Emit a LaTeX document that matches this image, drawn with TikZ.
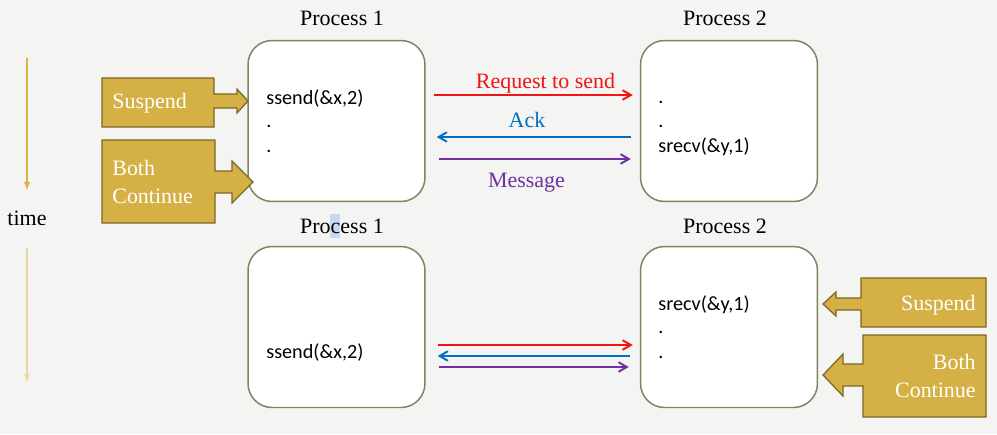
\documentclass[tikz,border=0pt]{standalone}
\usepackage{fontspec}
\setmainfont{Liberation Serif}
\newfontfamily\codefont{Carlito}
\usetikzlibrary{arrows}
\definecolor{bgpaper}{RGB}{244,244,242}
\definecolor{boxline}{RGB}{128,132,96}
\definecolor{gold}{RGB}{213,176,69}
\definecolor{goldline}{RGB}{125,103,38}
\definecolor{timegold}{RGB}{217,178,70}
\definecolor{timepale}{RGB}{238,214,160}
\definecolor{reqred}{RGB}{240,20,20}
\definecolor{ackblue}{RGB}{0,112,192}
\definecolor{msgpurple}{RGB}{112,48,160}
\definecolor{selblue}{RGB}{197,217,241}
\newcommand{\lb}{\fontsize{12.5}{15}\selectfont}
\newcommand{\cd}{\codefont\fontsize{11.5}{14}\selectfont}
\tikzset{
  procbox/.style={draw=boxline, line width=0.85pt, fill=white, rounded corners=0.48cm,
    minimum width=3.54cm, minimum height=3.22cm},
  callout/.style={draw=goldline, line width=0.7pt, fill=gold},
  calltxt/.style={inner sep=0pt, font=\lb, text=white},
  code/.style={anchor=base west, inner sep=0pt, font=\cd},
  lbl/.style={anchor=base, inner sep=0pt, font=\lb},
  msg/.style={line width=1.1pt, ->, >=angle 60},
}

\begin{document}
\begin{tikzpicture}[x=0.02cm,y=-0.02cm]
  \fill[bgpaper] (0,0) rectangle (997,434);
  \path[use as bounding box] (0,0) rectangle (997,434);
%  time axis
  \coordinate (tup) at (27,58);
  \coordinate (tupend) at (27,190);
  \coordinate (tlow) at (27,248);
  \coordinate (tlowend) at (27,382);
  \draw[timegold, line width=0.6pt, -latex] (tup) -- (tupend);
  \draw[timepale, line width=0.6pt, -latex] (tlow) -- (tlowend);
  \node[lbl] (tlbl) at (27,225) {time};
%  boxes
  \node[procbox] (ptopA) at (336.5,121) {};
  \node[procbox] (ptopB) at (729,121) {};
  \node[procbox] (pbotA) at (336.5,327) {};
  \node[procbox] (pbotB) at (729,327) {};
  \fill[selblue] (330,214) rectangle (340,238);
  \node[lbl] (ltopA) at (342,25) {Process 1};
  \node[lbl] (ltopB) at (725,25) {Process 2};
  \node[lbl] (lbotA) at (342,233) {Process 1};
  \node[lbl] (lbotB) at (725,233) {Process 2};
  \node[code] (ctopA1) at (266,104) {ssend(\&x,2)};
  \node[code] (ctopA2) at (266,127) {.};
  \node[code] (ctopA3) at (266,152) {.};
  \node[code] (ctopB1) at (658,103) {.};
  \node[code] (ctopB2) at (658,127) {.};
  \node[code] (ctopB3) at (658,152) {srecv(\&y,1)};
  \node[code] (cbotB1) at (658,310) {srecv(\&y,1)};
  \node[code] (cbotB2) at (658,333) {.};
  \node[code] (cbotB3) at (658,358) {.};
  \node[code] (cbotA1) at (266,358) {ssend(\&x,2)};
%  callouts
  \draw[callout] (102,78) -- (214,78) -- (214,94) -- (237,94) -- (237,89) -- (248,101)
    -- (237,113) -- (237,108) -- (214,108) -- (214,127) -- (102,127) -- cycle;
  \draw[callout] (102,140) -- (215,140) -- (215,171) -- (232,171) -- (232,161) -- (253,182)
    -- (232,203) -- (232,193) -- (215,193) -- (215,223) -- (102,223) -- cycle;
  \draw[callout] (986,278) -- (861,278) -- (861,298) -- (836,298) -- (836,292) -- (823,304)
    -- (836,316) -- (836,310) -- (861,310) -- (861,327) -- (986,327) -- cycle;
  \draw[callout] (986,335) -- (863,335) -- (863,364) -- (843,364) -- (843,354) -- (823,375)
    -- (843,396) -- (843,386) -- (863,386) -- (863,417) -- (986,417) -- cycle;
  \node[calltxt, anchor=base west] (susL) at (112,108) {Suspend};
  \node[calltxt, anchor=base west] (bothL) at (112,175) {Both};
  \node[calltxt, anchor=base west] (contL) at (112,203) {Continue};
  \node[calltxt, anchor=base east] (susR) at (976,310) {Suspend};
  \node[calltxt, anchor=base east] (bothR) at (976,369) {Both};
  \node[calltxt, anchor=base east] (contR) at (976,397) {Continue};
%  messages, top
  \draw[msg, reqred, shorten <=0.16cm, shorten >=0.14cm]
    ([yshift=0.52cm]ptopA.east) -- ([yshift=0.52cm]ptopB.west);
  \draw[msg, ackblue, shorten <=0.18cm, shorten >=0.22cm]
    ([yshift=-0.32cm]ptopB.west) -- ([yshift=-0.32cm]ptopA.east);
  \draw[msg, msgpurple, shorten <=0.26cm, shorten >=0.18cm]
    ([yshift=-0.76cm]ptopA.east) -- ([yshift=-0.76cm]ptopB.west);
  \node[lbl, text=reqred] (treq) at (545.5,88) {Request to send};
  \node[lbl, text=ackblue] (tack) at (527,127) {Ack};
  \node[lbl, text=msgpurple] (tmsg) at (526.5,187) {Message};
%  messages, bottom
  \draw[msg, reqred, shorten <=0.24cm, shorten >=0.14cm]
    ([yshift=-0.36cm]pbotA.east) -- ([yshift=-0.36cm]pbotB.west);
  \draw[msg, ackblue, shorten <=0.2cm, shorten >=0.24cm]
    ([yshift=-0.58cm]pbotB.west) -- ([yshift=-0.58cm]pbotA.east);
  \draw[msg, msgpurple, shorten <=0.26cm, shorten >=0.22cm]
    ([yshift=-0.8cm]pbotA.east) -- ([yshift=-0.8cm]pbotB.west);
\end{tikzpicture}
\end{document}
